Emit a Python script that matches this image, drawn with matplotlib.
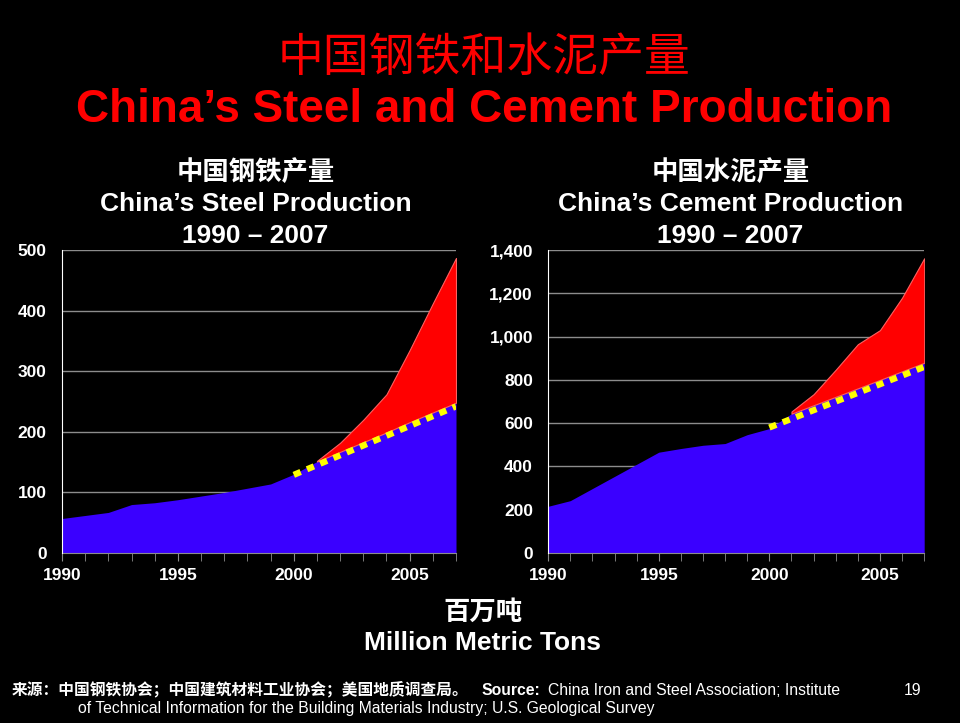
import matplotlib
matplotlib.use('Agg')
import matplotlib.pyplot as plt
from matplotlib.ticker import FuncFormatter, MultipleLocator

plt.rcParams['font.family'] = ['Liberation Sans', 'Noto Sans CJK SC', 'DejaVu Sans']

# data (million metric tons)
years = list(range(1990, 2008))
steel_base = [57, 62, 67, 80, 83, 88, 94, 100, 107, 114, 130, 151, 167, 183, 199, 216, 232, 248]
cement_base = [216, 242, 298, 354, 410, 466, 483, 498, 506, 547, 575, 644, 683, 722, 761, 800, 840, 879]

red_years = [2001, 2002, 2003, 2004, 2005, 2006, 2007]
steel_actual = [152, 182, 220, 262, 335, 412, 487]
cement_actual = [654, 734, 847, 965, 1030, 1180, 1362]

trend_years = [2000, 2007]
steel_trend = [129, 242]
cement_trend = [580, 860]

x_major = [1990, 1995, 2000, 2005]

BLUE = '#3a00ff'
RED = '#ff0000'
YELLOW = '#ffff00'
GRID = '#8c8c8c'


def draw_panel(ax, base, actual, trend, ymax, ystep):
    red_low = [base[years.index(y)] for y in red_years]
    ax.set_facecolor('black')
    ax.fill_between(years, 0, base, color=BLUE, lw=0, zorder=2)
    ax.fill_between(red_years, red_low, actual, color=RED, lw=0.8,
                    edgecolor='#ff6060', zorder=2)
    ax.plot(trend_years, trend, color=YELLOW, lw=4.5, dashes=(1.2, 1.1),
            solid_capstyle='butt', dash_capstyle='butt', zorder=3)
    ax.set_xlim(1990, 2007)
    ax.set_ylim(0, ymax)
    ax.yaxis.set_major_locator(MultipleLocator(ystep))
    ax.yaxis.set_major_formatter(FuncFormatter(lambda v, p: f'{int(v):,}'))
    ax.set_xticks(x_major)
    ax.set_xticks(years, minor=True)
    ax.grid(axis='y', color=GRID, lw=1, zorder=1)
    for s in ['top', 'right']:
        ax.spines[s].set_visible(False)
    ax.spines['left'].set_color('white')
    ax.spines['left'].set_zorder(4)
    ax.spines['bottom'].set_color(GRID)
    ax.tick_params(axis='y', length=0, pad=11, labelcolor='white', labelsize=12.5)
    ax.tick_params(axis='x', which='both', length=6, color=GRID, direction='out',
                   labelcolor='white', labelsize=12.5, pad=5)
    for lab in ax.get_xticklabels() + ax.get_yticklabels():
        lab.set_fontweight('bold')


fig = plt.figure(figsize=(9.6, 7.23), dpi=100, facecolor='black')
ax1 = fig.add_axes([0.0646, 0.2351, 0.4104, 0.419])
ax2 = fig.add_axes([0.571, 0.2351, 0.3917, 0.419])
draw_panel(ax1, steel_base, steel_actual, steel_trend, 500, 100)
draw_panel(ax2, cement_base, cement_actual, cement_trend, 1400, 200)

# titles
fig.text(0.504, 0.918, '中国钢铁和水泥产量', color=RED, fontsize=33,
         ha='center', va='center')
fig.text(0.504, 0.848, 'China’s Steel and Cement Production', color=RED,
         fontsize=33, fontweight='bold', ha='center', va='center')

subs = [(0.266, ['中国钢铁产量', 'China’s Steel Production', '1990 – 2007']),
        (0.761, ['中国水泥产量', 'China’s Cement Production', '1990 – 2007'])]
for x, lines in subs:
    for y, s in zip([0.762, 0.718, 0.674], lines):
        fig.text(x, y, s, color='white', fontsize=19, fontweight='bold',
                 ha='center', va='center')

fig.text(0.503, 0.153, '百万吨', color='white', fontsize=19,
         fontweight='bold', ha='center', va='center')
fig.text(0.503, 0.110, 'Million Metric Tons', color='white', fontsize=19,
         fontweight='bold', ha='center', va='center')

# footer
foot = dict(color='white', fontsize=11.3, va='baseline')
fig.text(0.0125, 0.039, '来源：中国钢铁协会；中国建筑材料工业协会；美国地质调查局。',
         fontweight='bold', **foot)
fig.text(0.502, 0.039, 'Source:', fontweight='bold', **foot)
fig.text(0.571, 0.039, 'China Iron and Steel Association; Institute', **foot)
fig.text(0.081, 0.014, 'of Technical Information for the Building Materials Industry; '
         'U.S. Geological Survey', **foot)
fig.text(0.951, 0.039, '19', ha='center', color='white', fontsize=11.3, va='baseline')

fig.savefig('out.png', dpi=100, facecolor='black')
